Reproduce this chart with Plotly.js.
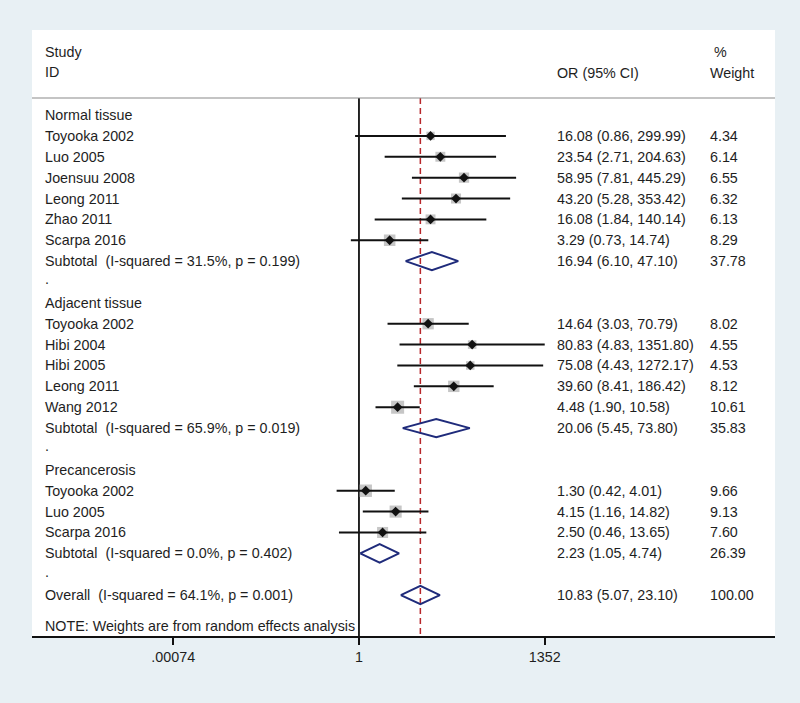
<!DOCTYPE html>
<html>
<head>
<meta charset="utf-8">
<script src="https://cdn.plot.ly/plotly-3.0.1.min.js"></script>
<style>html,body{margin:0;padding:0;background:#e8f0f4;}#chart{width:800px;height:703px;}</style>
</head>
<body>
<div id="chart"></div>
<script>
// ---------------- data ----------------
const groupNames = ['Normal tissue', 'Adjacent tissue', 'Precancerosis'];
const studyGroup = [0, 0, 0, 0, 0, 0, 1, 1, 1, 1, 1, 2, 2, 2];
const studyNames = ['Toyooka 2002', 'Luo 2005', 'Joensuu 2008', 'Leong 2011', 'Zhao 2011', 'Scarpa 2016',
                    'Toyooka 2002', 'Hibi 2004', 'Hibi 2005', 'Leong 2011', 'Wang 2012',
                    'Toyooka 2002', 'Luo 2005', 'Scarpa 2016'];
const studyOR = [16.08, 23.54, 58.95, 43.20, 16.08, 3.29, 14.64, 80.83, 75.08, 39.60, 4.48, 1.30, 4.15, 2.50];
const studyLo = [0.86, 2.71, 7.81, 5.28, 1.84, 0.73, 3.03, 4.83, 4.43, 8.41, 1.90, 0.42, 1.16, 0.46];
const studyHi = [299.99, 204.63, 445.29, 353.42, 140.14, 14.74, 70.79, 1351.80, 1272.17, 186.42, 10.58, 4.01, 14.82, 13.65];
const studyWeight = [4.34, 6.14, 6.55, 6.32, 6.13, 8.29, 8.02, 4.55, 4.53, 8.12, 10.61, 9.66, 9.13, 7.60];

const subtotalLabels = ['Subtotal  (I-squared = 31.5%, p = 0.199)',
                        'Subtotal  (I-squared = 65.9%, p = 0.019)',
                        'Subtotal  (I-squared = 0.0%, p = 0.402)'];
const subtotalOR = [16.94, 20.06, 2.23];
const subtotalLo = [6.10, 5.45, 1.05];
const subtotalHi = [47.10, 73.80, 4.74];
const subtotalWeight = [37.78, 35.83, 26.39];

const overallLabel = 'Overall  (I-squared = 64.1%, p = 0.001)';
const overallOR = [10.83];
const overallLo = [5.07];
const overallHi = [23.10];
const overallWeight = [100.00];

const noteText = 'NOTE: Weights are from random effects analysis';
const tickVals = [0.00074, 1, 1352];
const tickText = ['.00074', '1', '1352'];

// ---------------- layout of rows ----------------
const FONT = 'Liberation Sans, Arial, Helvetica, sans-serif';
const FS = 14.3;
const TXT = '#1e1e1e';
const colLabel = 0.0148, colOR = 0.7039, colW = 0.9098;
const sepRow = 0.185, yBottom = 25.96, yTop = -3.073;

const fmt = v => v.toFixed(2);
const sp = s => s.replace(/  /g, ' \u00a0');

const annotations = [];
function addText(x, y, text) {
  annotations.push({xref: 'paper', yref: 'y', x: x, y: y, text: sp(text), showarrow: false,
    xanchor: 'left', yanchor: 'middle', font: {family: FONT, size: FS, color: TXT}});
}
addText(colLabel, -2.02, 'Study');
addText(colLabel, -1.06, 'ID');
addText(colOR, -1.03, 'OR (95% CI)');
addText(colW + 0.006, -2.04, '%');
addText(colW, -1.03, 'Weight');

const studyRow = [], subRow = [];
let r = 0;
groupNames.forEach((g, gi) => {
  r += 1; addText(colLabel, r, g);
  studyNames.forEach((s, i) => {
    if (studyGroup[i] !== gi) return;
    r += 1; studyRow[i] = r;
    addText(colLabel, r, s);
    addText(colOR, r, fmt(studyOR[i]) + ' (' + fmt(studyLo[i]) + ', ' + fmt(studyHi[i]) + ')');
    addText(colW, r, fmt(studyWeight[i]));
  });
  r += 1; subRow[gi] = r;
  addText(colLabel, r, subtotalLabels[gi]);
  addText(colOR, r, fmt(subtotalOR[gi]) + ' (' + fmt(subtotalLo[gi]) + ', ' + fmt(subtotalHi[gi]) + ')');
  addText(colW, r, fmt(subtotalWeight[gi]));
  r += 1; addText(colLabel, r - 0.12, '.');
});
r += 1; const overallRow = r;
addText(colLabel, r, overallLabel);
addText(colOR, r, fmt(overallOR[0]) + ' (' + fmt(overallLo[0]) + ', ' + fmt(overallHi[0]) + ')');
addText(colW, r, fmt(overallWeight[0]));
addText(colLabel, r + 1.48, noteText);

// ---------------- traces ----------------
const ciX = [], ciY = [];
studyNames.forEach((s, i) => { ciX.push(studyLo[i], studyHi[i], null); ciY.push(studyRow[i], studyRow[i], null); });

const dX = [], dY = [];
const H = 0.44;
function diamond(lo, est, hi, row) {
  dX.push(lo, est, hi, est, lo, null);
  dY.push(row, row - H, row, row + H, row, null);
}
subtotalOR.forEach((v, i) => diamond(subtotalLo[i], v, subtotalHi[i], subRow[i]));
diamond(overallLo[0], overallOR[0], overallHi[0], overallRow);

const traces = [
  { // reference line at 1
    x: [1, 1], y: [sepRow, yBottom], mode: 'lines', hoverinfo: 'skip',
    line: {color: '#111111', width: 1.8}
  },
  { // overall effect line
    x: [overallOR[0], overallOR[0]], y: [sepRow, yBottom], mode: 'lines', hoverinfo: 'skip',
    line: {color: '#b8262b', width: 1.5, dash: '6px,4px'}
  },
  { // weight boxes
    x: studyOR, y: studyRow, mode: 'markers', hoverinfo: 'skip',
    marker: {symbol: 'square', color: '#aeaeae', size: studyWeight.map(w => 4 * Math.sqrt(w)), line: {width: 0}}
  },
  { // confidence intervals
    x: ciX, y: ciY, mode: 'lines', hoverinfo: 'skip',
    line: {color: '#111111', width: 2}
  },
  { // point estimates
    x: studyOR, y: studyRow, mode: 'markers', hoverinfo: 'skip',
    marker: {symbol: 'diamond', color: '#111111', size: 7.5, line: {width: 0}}
  },
  { // pooled diamonds
    x: dX, y: dY, mode: 'lines', hoverinfo: 'skip',
    line: {color: '#1f2b7b', width: 2}
  }
];

const layout = {
  width: 800, height: 703,
  margin: {l: 32, r: 25, t: 30, b: 67, pad: 0},
  paper_bgcolor: '#e8f0f4',
  plot_bgcolor: '#ffffff',
  showlegend: false,
  xaxis: {
    type: 'log', range: [-5.511, 7.012], fixedrange: true,
    tickmode: 'array', tickvals: tickVals, ticktext: tickText,
    ticks: 'outside', ticklen: 7, tickwidth: 2, tickcolor: '#111111',
    showline: true, linewidth: 2, linecolor: '#111111',
    showgrid: false, zeroline: false,
    tickfont: {family: FONT, size: FS, color: TXT}
  },
  yaxis: {range: [yBottom, yTop], visible: false, fixedrange: true, showgrid: false, zeroline: false},
  shapes: [
    {type: 'line', xref: 'paper', yref: 'y', x0: 0, x1: 1, y0: sepRow, y1: sepRow,
     line: {color: '#8a8a8a', width: 1.2}}
  ],
  annotations: annotations
};

Plotly.newPlot('chart', traces, layout, {displayModeBar: false, staticPlot: true});
</script>
</body>
</html>
